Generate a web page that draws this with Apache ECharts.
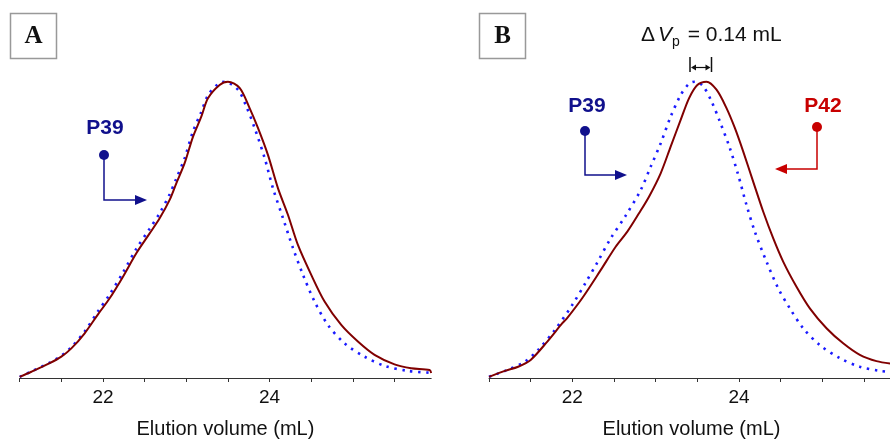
<!DOCTYPE html>
<html>
<head>
<meta charset="utf-8">
<script src="https://cdn.jsdelivr.net/npm/echarts@6/dist/echarts.min.js"></script>
<style>
  html, body { margin: 0; padding: 0; background: #fff; }
  #chart { width: 890px; height: 439px; }
</style>
</head>
<body>
<div id="chart"></div>
<script>
// Normalized SEC elution profiles: [elution volume (mL), relative intensity]
const panelA_P39 = [
  [21.0, 0.004], [21.14, 0.022], [21.36, 0.052], [21.5, 0.075], [21.62, 0.104],
  [21.78, 0.157], [21.94, 0.225], [22.08, 0.282], [22.24, 0.356], [22.40, 0.436],
  [22.56, 0.504], [22.68, 0.556], [22.80, 0.620], [22.88, 0.673], [22.98, 0.742],
  [23.08, 0.832], [23.18, 0.898], [23.26, 0.954], [23.38, 0.992], [23.46, 1.0],
  [23.62, 0.973], [23.72, 0.917], [23.82, 0.844], [23.94, 0.743], [24.04, 0.641],
  [24.16, 0.540], [24.28, 0.439], [24.4, 0.349], [24.54, 0.258], [24.7, 0.179],
  [24.9, 0.117], [25.14, 0.072], [25.38, 0.041], [25.66, 0.024], [25.92, 0.018]
];
const panelA_P42 = [
  [21.0, 0.004], [21.14, 0.021], [21.36, 0.050], [21.5, 0.072], [21.62, 0.100],
  [21.78, 0.151], [21.94, 0.215], [22.08, 0.269], [22.24, 0.342], [22.40, 0.421],
  [22.56, 0.488], [22.68, 0.539], [22.80, 0.601], [22.88, 0.657], [22.98, 0.725],
  [23.08, 0.814], [23.18, 0.882], [23.26, 0.944], [23.40, 0.989], [23.5, 1.0],
  [23.64, 0.979], [23.76, 0.911], [23.86, 0.844], [23.98, 0.753], [24.1, 0.641],
  [24.22, 0.551], [24.34, 0.449], [24.5, 0.348], [24.66, 0.258], [24.86, 0.179],
  [25.06, 0.123], [25.26, 0.078], [25.5, 0.046], [25.7, 0.033], [25.92, 0.027],
  [25.94, 0.017]
];
const panelB_P39 = [
  [21.0, 0.004], [21.2, 0.025], [21.43, 0.055], [21.59, 0.095], [21.79, 0.162],
  [22.0, 0.247], [22.16, 0.322], [22.30, 0.390], [22.46, 0.471], [22.64, 0.548],
  [22.82, 0.634], [22.94, 0.713], [23.06, 0.792], [23.18, 0.882], [23.30, 0.955],
  [23.40, 0.993], [23.47, 1.0], [23.56, 0.988], [23.66, 0.940], [23.77, 0.866],
  [23.89, 0.776], [23.99, 0.686], [24.09, 0.584], [24.19, 0.494], [24.33, 0.393],
  [24.47, 0.303], [24.61, 0.235], [24.77, 0.168], [24.97, 0.111], [25.21, 0.067],
  [25.45, 0.038], [25.69, 0.024], [25.86, 0.019]
];
const panelB_P42 = [
  [21.0, 0.004], [21.19, 0.024], [21.35, 0.038], [21.5, 0.061], [21.7, 0.123],
  [21.88, 0.185], [21.94, 0.203], [22.12, 0.270], [22.34, 0.364], [22.52, 0.443],
  [22.66, 0.494], [22.80, 0.556], [22.92, 0.612], [23.06, 0.691], [23.18, 0.781],
  [23.30, 0.871], [23.40, 0.944], [23.50, 0.989], [23.61, 1.0], [23.73, 0.973],
  [23.85, 0.911], [23.95, 0.844], [24.05, 0.765], [24.17, 0.663], [24.29, 0.562],
  [24.41, 0.472], [24.53, 0.393], [24.69, 0.308], [24.85, 0.235], [25.05, 0.168],
  [25.25, 0.117], [25.45, 0.078], [25.65, 0.057], [25.86, 0.047]
];

const tickValues = [21, 21.5, 22, 22.5, 23, 23.5, 24, 24.5, 25, 25.5];
const labelValues = [22, 24];
const axisTitle = 'Elution volume (mL)';
const panelLetters = ['A', 'B'];
const peakShiftText = ' = 0.14 mL';

const RED = '#800000';
const BLUE = '#1a1aff';
const NAVY = '#10108c';
const LABEL_RED = '#c80000';

const chart = echarts.init(document.getElementById('chart'), null, { renderer: 'canvas' });

function xAxisFor(gridIndex, max) {
  return {
    type: 'value', gridIndex, min: 21, max, interval: 0.5,
    name: axisTitle, nameLocation: 'middle', nameGap: 41,
    nameTextStyle: { fontFamily: 'Liberation Sans', fontSize: 20, color: '#111' },
    axisLine: { show: true, onZero: false, lineStyle: { color: '#333', width: 1 } },
    axisTick: { show: true, length: 4, inside: false, customValues: tickValues,
                lineStyle: { color: '#333', width: 1 } },
    axisLabel: { show: true, customValues: labelValues, margin: 10,
                 fontFamily: 'Liberation Sans', fontSize: 19, color: '#111' },
    splitLine: { show: false }
  };
}
function yAxisFor(gridIndex) {
  return { type: 'value', gridIndex, min: 0, max: 1.02, show: false };
}
function seriesFor(data, axisIndex, dotted) {
  return {
    type: 'line', data, xAxisIndex: axisIndex, yAxisIndex: axisIndex,
    showSymbol: false, smooth: 0.3, animation: false, clip: false,
    lineStyle: dotted
      ? { color: BLUE, width: 2.6, type: [2.4, 5.6], cap: 'butt' }
      : { color: RED, width: 2 },
    z: dotted ? 2 : 3
  };
}

function letterBox(x, label) {
  return [
    { type: 'rect', shape: { x: x + 0.5, y: 13.5, width: 46, height: 45 },
      style: { fill: '#fff', stroke: '#999', lineWidth: 1.5 } },
    { type: 'text', x: x + 23.5, y: 37, style: {
        text: label, font: 'bold 25px "Liberation Serif"', fill: '#111',
        align: 'center', verticalAlign: 'middle' } }
  ];
}
function pointer(dot, corner, tip, color) {
  const dir = tip[0] > corner[0] ? 1 : -1;
  return [
    { type: 'polyline', shape: { points: [dot, corner, [tip[0] - dir * 10, tip[1]]] },
      style: { stroke: color, lineWidth: 1.5, fill: null } },
    { type: 'polygon', shape: { points: [[tip[0], tip[1]], [tip[0] - dir * 12, tip[1] - 5], [tip[0] - dir * 12, tip[1] + 5]] },
      style: { fill: color } },
    { type: 'circle', shape: { cx: dot[0], cy: dot[1], r: 5 }, style: { fill: color } }
  ];
}
function tag(x, y, text, color) {
  return { type: 'text', x, y, style: {
    text, font: 'bold 21px "Liberation Sans"', fill: color, align: 'center', verticalAlign: 'middle' } };
}

const graphics = [].concat(
  letterBox(10, panelLetters[0]),
  letterBox(479, panelLetters[1]),
  [tag(105, 128, 'P39', NAVY)],
  pointer([104, 155], [104, 200], [147, 200], NAVY),
  [tag(587, 106, 'P39', NAVY)],
  pointer([585, 131], [585, 175], [627, 175], NAVY),
  [tag(823, 106, 'P42', LABEL_RED)],
  pointer([817, 127], [817, 169], [775, 169], LABEL_RED),
  [
    { type: 'text', x: 641, y: 35, style: {
        text: '{d|Δ}{v|V}{s|p}{t|' + peakShiftText + '}',
        verticalAlign: 'middle', align: 'left',
        rich: {
          d: { fontFamily: 'Liberation Sans', fontSize: 21, fill: '#111' },
          v: { fontFamily: 'Liberation Sans', fontStyle: 'italic', fontSize: 21, fill: '#111', padding: [0, 0, 0, 3] },
          s: { fontFamily: 'Liberation Sans', fontSize: 14, fill: '#111', verticalAlign: 'bottom', padding: [14, 0, 0, 0] },
          t: { fontFamily: 'Liberation Sans', fontSize: 21, fill: '#111', padding: [0, 0, 0, 2] }
        } } },
    { type: 'line', shape: { x1: 690, y1: 57, x2: 690, y2: 72 }, style: { stroke: '#111', lineWidth: 1.5 } },
    { type: 'line', shape: { x1: 711.5, y1: 57, x2: 711.5, y2: 72 }, style: { stroke: '#111', lineWidth: 1.5 } },
    { type: 'line', shape: { x1: 694, y1: 67.5, x2: 707.5, y2: 67.5 }, style: { stroke: '#111', lineWidth: 1.2 } },
    { type: 'polygon', shape: { points: [[691, 67.5], [696, 64.5], [696, 70.5]] }, style: { fill: '#111' } },
    { type: 'polygon', shape: { points: [[710.5, 67.5], [705.5, 64.5], [705.5, 70.5]] }, style: { fill: '#111' } }
  ]
);

chart.setOption({
  animation: false,
  backgroundColor: '#fff',
  grid: [
    { left: 19.7, top: 75.8, width: 411.5, height: 302.2, containLabel: false, outerBoundsMode: 'none' },
    { left: 489, top: 75.8, width: 405, height: 302.2, containLabel: false, outerBoundsMode: 'none' }
  ],
  xAxis: [xAxisFor(0, 25.94), xAxisFor(1, 25.86)],
  yAxis: [yAxisFor(0), yAxisFor(1)],
  series: [
    seriesFor(panelA_P39, 0, true),
    seriesFor(panelA_P42, 0, false),
    seriesFor(panelB_P39, 1, true),
    seriesFor(panelB_P42, 1, false)
  ],
  graphic: graphics
});
</script>
</body>
</html>
